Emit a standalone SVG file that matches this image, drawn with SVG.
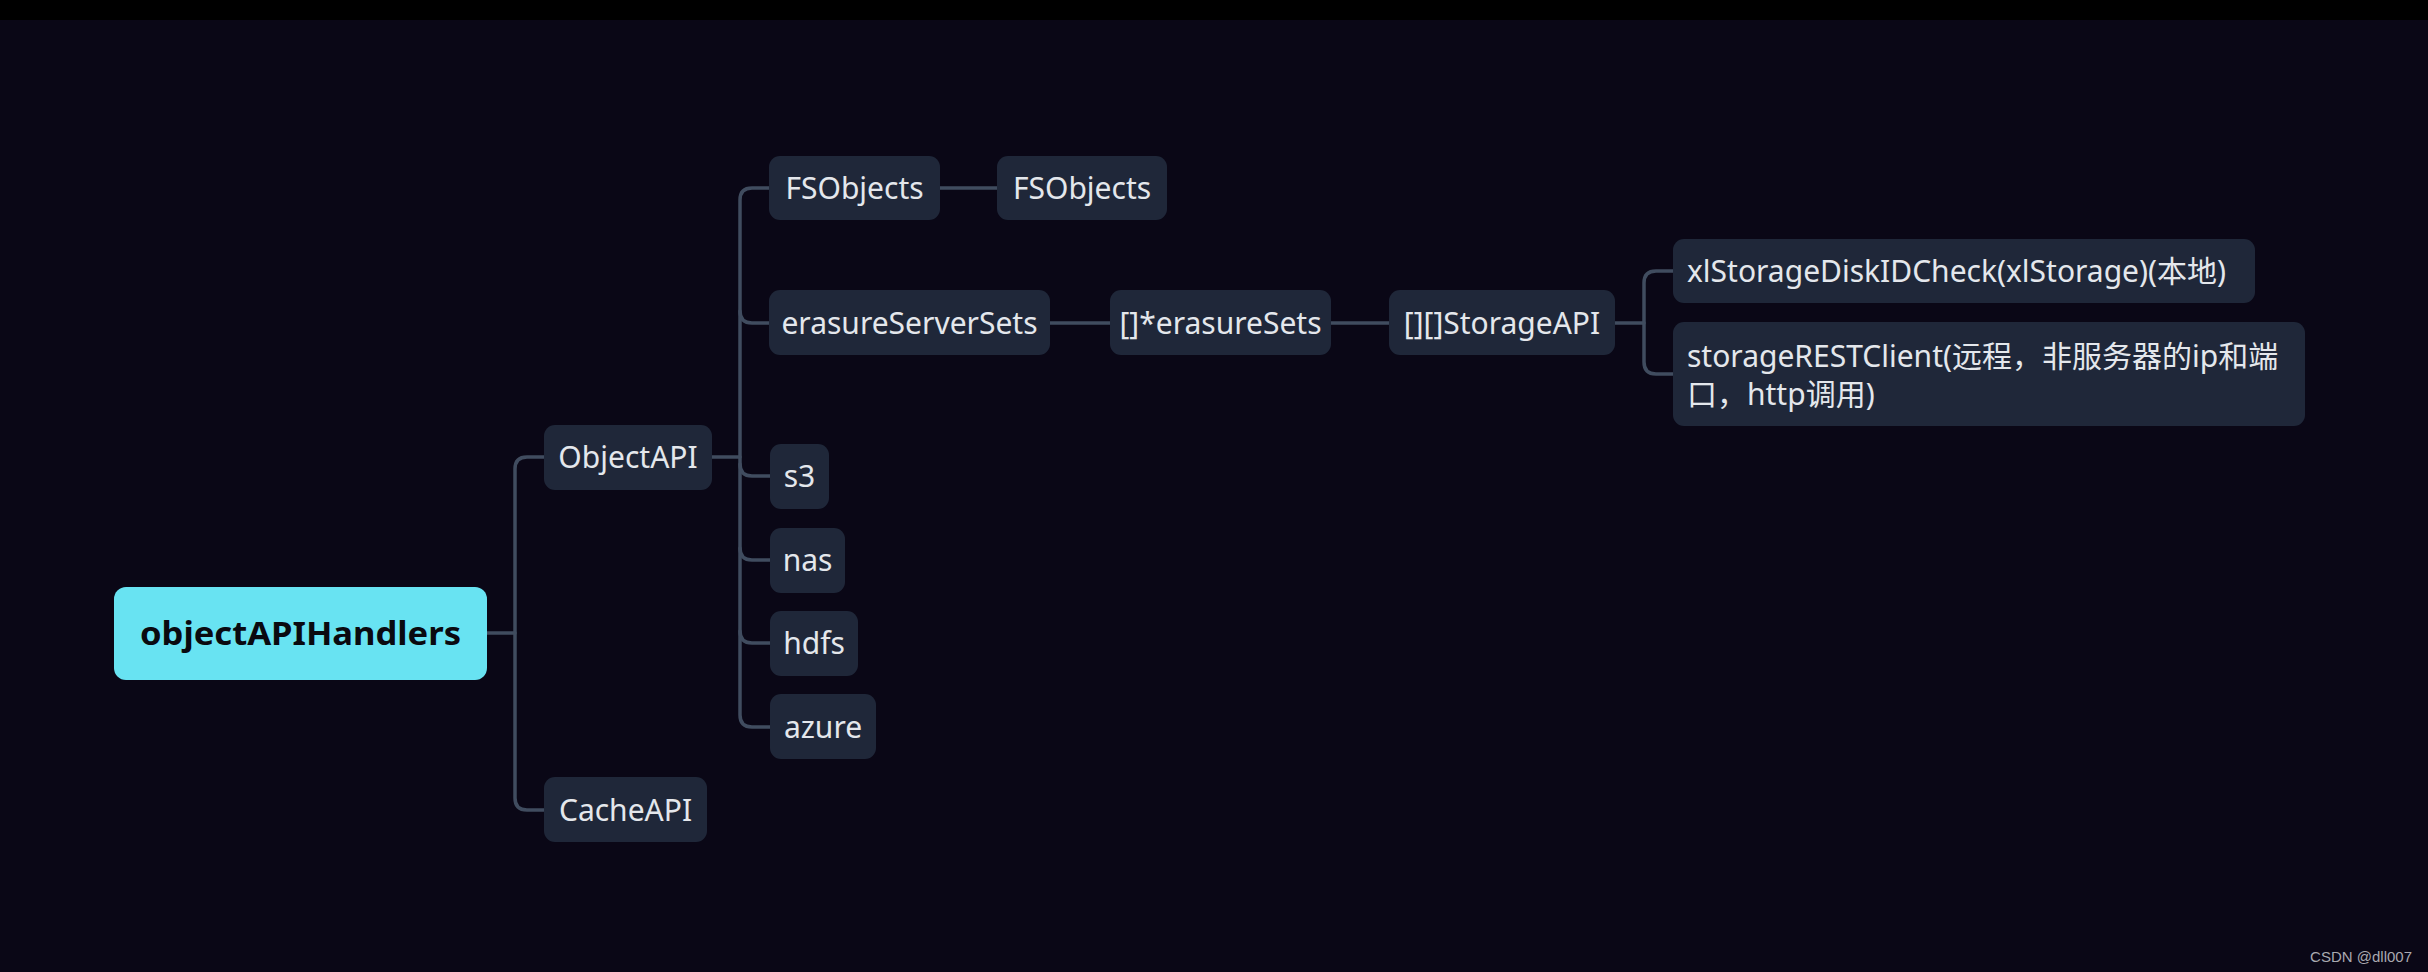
<svg xmlns="http://www.w3.org/2000/svg" width="2428" height="972" viewBox="0 0 2428 972">
<style>
.bg{fill:#0a0716}
.node rect{fill:#1f2739}
.node text{fill:#e4e7ec;font-family:"Noto Sans","Noto Sans CJK SC",sans-serif;font-size:30px;text-anchor:middle}
.root rect{fill:#68e3f2}
.root text{fill:#0a0a10;font-family:"Noto Sans","Noto Sans CJK SC",sans-serif;font-size:33px;font-weight:bold;text-anchor:middle}
.conn path{fill:none;stroke:#404c5f;stroke-width:3.5;stroke-linecap:round}
.wm{fill:#a9a9b0;font-family:"Liberation Sans",Arial,sans-serif;font-size:15px;text-anchor:end}
</style>
<rect class="bg" x="0" y="0" width="2428" height="972"/>
<rect x="0" y="0" width="2428" height="20" fill="#000000"/>
<g id="connectors" class="conn">
<path d="M487 633 H515"/>
<path d="M544 457 H527 Q515 457 515 469 V798 Q515 810 527 810 H544"/>
<path d="M712 457 H740"/>
<path d="M770 188 H752 Q740 188 740 200 V715 Q740 727 752 727 H770"/>
<path d="M740 311 Q740 323 752 323 H769"/>
<path d="M740 464 Q740 476 752 476 H770"/>
<path d="M740 548 Q740 560 752 560 H770"/>
<path d="M740 631 Q740 643 752 643 H770"/>
<path d="M940 188 H997"/>
<path d="M1050 323 H1110"/>
<path d="M1331 323 H1389"/>
<path d="M1615 323 H1644"/>
<path d="M1673 271 H1656 Q1644 271 1644 283 V362 Q1644 374 1656 374 H1673"/>
</g>
<g id="n-root" class="root"><rect x="114" y="587" width="373" height="93" rx="12"/><text x="300.5" y="645" textLength="321" lengthAdjust="spacingAndGlyphs">objectAPIHandlers</text></g>
<g id="n-objectapi" class="node"><rect x="544" y="425" width="168" height="65" rx="11"/><text x="628" y="468">ObjectAPI</text></g>
<g id="n-cacheapi" class="node"><rect x="544" y="777" width="163" height="65" rx="11"/><text x="625.5" y="821">CacheAPI</text></g>
<g id="n-fsobjects1" class="node"><rect x="769" y="156" width="171" height="64" rx="11"/><text x="854.5" y="199">FSObjects</text></g>
<g id="n-fsobjects2" class="node"><rect x="997" y="156" width="170" height="64" rx="11"/><text x="1082" y="199">FSObjects</text></g>
<g id="n-erasureserversets" class="node"><rect x="769" y="290" width="281" height="65" rx="11"/><text x="909.5" y="334">erasureServerSets</text></g>
<g id="n-erasuresets" class="node"><rect x="1110" y="290" width="221" height="65" rx="11"/><text x="1220.5" y="334">[]*erasureSets</text></g>
<g id="n-storageapi" class="node"><rect x="1389" y="290" width="226" height="65" rx="11"/><text x="1502" y="334">[][]StorageAPI</text></g>
<g id="n-xlstorage" class="node"><rect x="1673" y="239" width="582" height="64" rx="11"/><text x="1687" y="282" style="text-anchor:start">xlStorageDiskIDCheck(xlStorage)(本地)</text></g>
<g id="n-storagerest" class="node"><rect x="1673" y="322" width="632" height="104" rx="11"/><text x="1687" y="367" style="text-anchor:start">storageRESTClient(远程，非服务器的ip和端</text><text x="1687" y="405" style="text-anchor:start">口，http调用)</text></g>
<g id="n-s3" class="node"><rect x="770" y="444" width="59" height="65" rx="11"/><text x="799.5" y="487">s3</text></g>
<g id="n-nas" class="node"><rect x="770" y="528" width="75" height="65" rx="11"/><text x="807.5" y="571">nas</text></g>
<g id="n-hdfs" class="node"><rect x="770" y="611" width="88" height="65" rx="11"/><text x="814" y="654">hdfs</text></g>
<g id="n-azure" class="node"><rect x="770" y="694" width="106" height="65" rx="11"/><text x="823" y="738">azure</text></g>
<text class="wm" x="2412" y="962">CSDN @dll007</text>
</svg>
